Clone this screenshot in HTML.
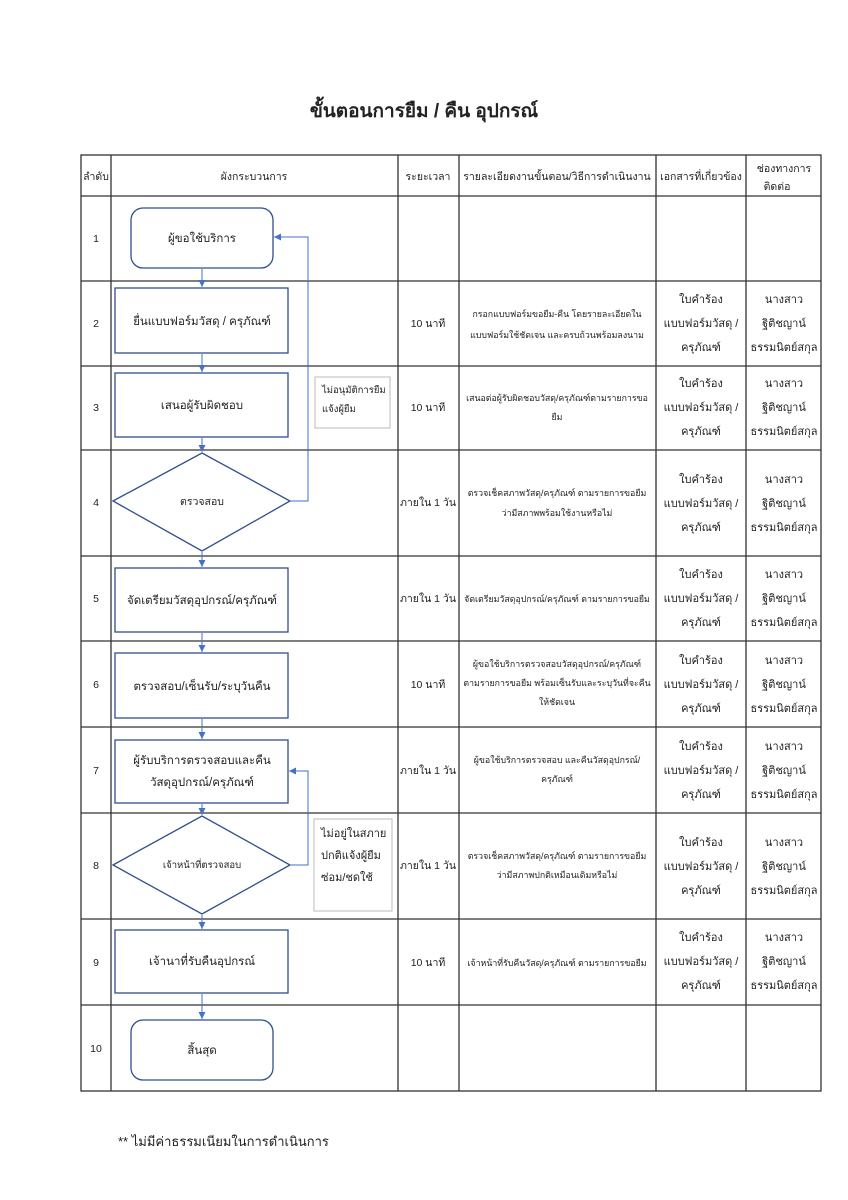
<!DOCTYPE html>
<html><head><meta charset="utf-8"><style>
body{margin:0;background:#fff;width:848px;height:1200px;overflow:hidden}
svg{position:absolute;left:0;top:0}
text{font-family:"Liberation Sans","DejaVu Sans",sans-serif;fill:#222}
</style></head><body>
<svg width="848" height="1200" viewBox="0 0 848 1200" xmlns="http://www.w3.org/2000/svg">
<defs><marker id="a" markerWidth="8" markerHeight="8" refX="7" refY="4" orient="auto" markerUnits="userSpaceOnUse"><path d="M0,0.5 L7,4 L0,7.5z" fill="#4472c4"/></marker></defs>
<text x="424" y="117" text-anchor="middle" font-size="19" font-weight="bold">ขั้นตอนการยืม / คืน อุปกรณ์</text>
<g stroke="#333" stroke-width="1.3" fill="none">
<rect x="81" y="155" width="740" height="936"/>
<path d="M111 155V1091M398 155V1091M459 155V1091M656 155V1091M746 155V1091"/>
<path d="M81 196H821M81 281H821M81 366H821M81 450H821M81 556H821M81 641H821M81 727H821M81 813H821M81 919H821M81 1005H821"/>
</g>
<g font-size="10.5" text-anchor="middle">
<text x="96" y="180">ลำดับ</text><text x="254" y="180">ผังกระบวนการ</text><text x="428" y="180">ระยะเวลา</text>
<text x="557" y="180">รายละเอียดงานขั้นตอน/วิธีการดำเนินงาน</text><text x="701" y="180">เอกสารที่เกี่ยวข้อง</text>
<text x="784" y="172">ช่องทางการ</text><text x="777" y="190">ติดต่อ</text>
<text x="96" y="242">1</text><text x="96" y="327">2</text><text x="96" y="411">3</text><text x="96" y="506">4</text><text x="96" y="602">5</text><text x="96" y="688">6</text><text x="96" y="774">7</text><text x="96" y="869">8</text><text x="96" y="966">9</text><text x="96" y="1052">10</text>
</g>
<g stroke="#2f4f8f" stroke-width="1.3" fill="#fff">
<rect x="131" y="208" width="142" height="60" rx="12"/>
<rect x="115" y="288" width="173" height="65"/>
<rect x="115" y="373" width="173" height="64"/>
<polygon points="113,501 202,453 290,501 202,551"/>
<rect x="115" y="568" width="173" height="64"/>
<rect x="115" y="653" width="173" height="65"/>
<rect x="115" y="740" width="173" height="63"/>
<polygon points="113,865 202,816 290,865 202,914"/>
<rect x="115" y="930" width="173" height="63"/>
<rect x="131" y="1020" width="142" height="60" rx="12"/>
</g>
<g stroke="#4472c4" fill="none" stroke-width="1" marker-end="url(#a)">
<path d="M202 269V287"/><path d="M202 354V372"/><path d="M202 438V452"/><path d="M202 552V567"/><path d="M202 633V652"/><path d="M202 719V739"/><path d="M202 804V815"/><path d="M202 915V929"/><path d="M202 994V1019"/>
<path d="M291 501H308V237H274"/>
<path d="M291 865H308V771H289"/>
</g>
<rect x="315" y="377" width="75" height="51" fill="#fff" stroke="#bbb"/>
<rect x="314" y="819" width="78" height="92" fill="#fff" stroke="#bbb"/>
<g font-size="11.5" text-anchor="middle">
<text x="202" y="242">ผู้ขอใช้บริการ</text>
<text x="202" y="325">ยื่นแบบฟอร์มวัสดุ / ครุภัณฑ์</text>
<text x="202" y="409">เสนอผู้รับผิดชอบ</text>
<text x="202" y="505" font-size="10.5">ตรวจสอบ</text>
<text x="202" y="604">จัดเตรียมวัสดุอุปกรณ์/ครุภัณฑ์</text>
<text x="202" y="690">ตรวจสอบ/เซ็นรับ/ระบุวันคืน</text>
<text x="202" y="764">ผู้รับบริการตรวจสอบและคืน</text>
<text x="202" y="786">วัสดุอุปกรณ์/ครุภัณฑ์</text>
<text x="202" y="868" font-size="9.5">เจ้าหน้าที่ตรวจสอบ</text>
<text x="202" y="965">เจ้านาที่รับคืนอุปกรณ์</text>
<text x="202" y="1054">สิ้นสุด</text>
</g>
<g font-size="9.5"><text x="322" y="393">ไม่อนุมัติการยืม</text><text x="322" y="412">แจ้งผู้ยืม</text></g>
<g font-size="11"><text x="321" y="837">ไม่อยู่ในสภาย</text><text x="321" y="859">ปกติแจ้งผู้ยืม</text><text x="321" y="881">ซ่อม/ชดใช้</text></g>
<g font-size="10.5" text-anchor="middle">
<text x="428" y="327">10 นาที</text><text x="428" y="411">10 นาที</text><text x="428" y="506">ภายใน 1 วัน</text><text x="428" y="602">ภายใน 1 วัน</text><text x="428" y="688">10 นาที</text><text x="428" y="774">ภายใน 1 วัน</text><text x="428" y="869">ภายใน 1 วัน</text><text x="428" y="966">10 นาที</text>
</g>
<g font-size="8.8" text-anchor="middle">
<text x="557" y="317">กรอกแบบฟอร์มขอยืม-คืน โดยรายละเอียดใน</text><text x="557" y="338">แบบฟอร์มใช้ชัดเจน และครบถ้วนพร้อมลงนาม</text>
<text x="557" y="401">เสนอต่อผู้รับผิดชอบวัสดุ/ครุภัณฑ์ตามรายการขอ</text><text x="557" y="420">ยืม</text>
<text x="557" y="496">ตรวจเช็คสภาพวัสดุ/ครุภัณฑ์ ตามรายการขอยืม</text><text x="557" y="516">ว่ามีสภาพพร้อมใช้งานหรือไม่</text>
<text x="557" y="602">จัดเตรียมวัสดุอุปกรณ์/ครุภัณฑ์ ตามรายการขอยืม</text>
<text x="557" y="667">ผู้ขอใช้บริการตรวจสอบวัสดุอุปกรณ์/ครุภัณฑ์</text><text x="557" y="686">ตามรายการขอยืม พร้อมเซ็นรับและระบุวันที่จะคืน</text><text x="557" y="705">ให้ชัดเจน</text>
<text x="557" y="763">ผู้ขอใช้บริการตรวจสอบ และคืนวัสดุอุปกรณ์/</text><text x="557" y="782">ครุภัณฑ์</text>
<text x="557" y="859">ตรวจเช็คสภาพวัสดุ/ครุภัณฑ์ ตามรายการขอยืม</text><text x="557" y="878">ว่ามีสภาพปกติเหมือนเดิมหรือไม่</text>
<text x="557" y="966">เจ้าหน้าที่รับคืนวัสดุ/ครุภัณฑ์ ตามรายการขอยืม</text>
</g>
<g font-size="11" text-anchor="middle">
<g id="d"><text x="701" y="303">ใบคำร้อง</text><text x="701" y="327">แบบฟอร์มวัสดุ /</text><text x="701" y="351">ครุภัณฑ์</text>
<text x="784" y="303">นางสาว</text><text x="784" y="327">ฐิติชญาน์</text><text x="784" y="351">ธรรมนิตย์สกุล</text></g>
<use href="#d" y="84"/><use href="#d" y="180"/><use href="#d" y="275"/><use href="#d" y="361"/><use href="#d" y="447"/><use href="#d" y="543"/><use href="#d" y="638"/>
</g>
<text x="118" y="1146" font-size="13">** ไม่มีค่าธรรมเนียมในการดำเนินการ</text>
</svg>
</body></html>
